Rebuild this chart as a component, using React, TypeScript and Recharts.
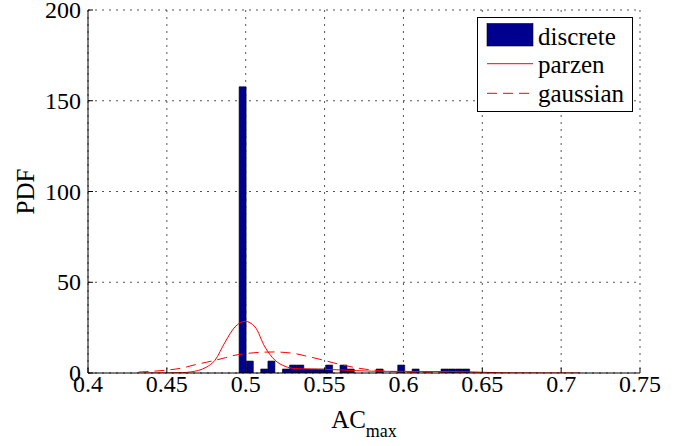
import React from 'react';
import { ComposedChart, Bar, Line, XAxis, YAxis, CartesianGrid, Legend, Label } from 'recharts';

// histogram bins (centres) and their PDF heights
const binCenters = [
  0.49809, 0.50266, 0.5118, 0.51635, 0.52555, 0.53011, 0.53468, 0.53924, 0.54381, 0.54837,
  0.55294, 0.56207, 0.56663, 0.58496, 0.59866, 0.60779, 0.62611, 0.63068, 0.63525, 0.63981,
];
const binPdf = [
  157.7, 6.57, 2.19, 6.57, 2.19, 4.38, 4.38, 2.19, 2.19, 2.19,
  4.38, 4.38, 2.19, 2.19, 4.38, 2.19, 2.19, 2.19, 2.19, 2.19,
];

// parzen window estimate
const parzenX = [
  0.435, 0.45, 0.46, 0.465, 0.47, 0.475, 0.4805, 0.4869, 0.4932, 0.4995, 0.5059, 0.5122, 0.5186,
  0.5249, 0.5313, 0.54, 0.55, 0.56, 0.57, 0.58, 0.59, 0.6, 0.61, 0.62, 0.63, 0.64, 0.65, 0.66,
  0.67, 0.69, 0.712,
];
const parzenY = [
  0, 0.05, 0.2, 0.6, 1.4, 3.2, 7, 17, 25.4, 28.5, 25.4, 14.3, 7,
  3.7, 2.4, 2.2, 2.0, 1.7, 1.3, 1.0, 0.9, 0.9, 0.8, 0.8, 0.8, 0.7, 0.4, 0.15,
  0.05, 0, 0,
];

// gaussian fit
const gaussX = [
  0.432, 0.44, 0.45, 0.46, 0.468, 0.475, 0.4805, 0.487, 0.4932, 0.5, 0.5059, 0.512, 0.5186,
  0.525, 0.5313, 0.537, 0.543, 0.55, 0.556, 0.562, 0.568, 0.575, 0.582, 0.59, 0.6, 0.61, 0.62,
  0.635, 0.66,
];
const gaussY = [
  0.5, 0.9, 1.6, 2.8, 4.6, 5.9, 7.0, 8.4, 9.8, 10.7, 11.2, 11.5, 11.6,
  11.3, 10.7, 9.6, 8.4, 6.9, 5.5, 4.3, 3.2, 2.2, 1.5, 0.9, 0.5, 0.25, 0.1,
  0.05, 0,
];

const xTicks = [0.4, 0.45, 0.5, 0.55, 0.6, 0.65, 0.7, 0.75];
const yTicks = [0, 50, 100, 150, 200];

const histData = binCenters.map((x, i) => ({ x, pdf: binPdf[i] }));
const parzenData = parzenX.map((x, i) => ({ x, parzen: parzenY[i] }));
const gaussData = gaussX.map((x, i) => ({ x, gaussian: gaussY[i] }));

const FONT = "'Liberation Serif', 'Times New Roman', serif";
const NAVY = '#00008F';
const RED = '#FF0000';
const DASH = '10 6';
const serif = { fontFamily: FONT };

const LegendBox = () => (
  <svg width={156} height={95} style={{ display: 'block' }}>
    <rect x={0.5} y={0.5} width={155} height={94} fill="#fff" stroke="#000" />
    <rect x={10} y={6.5} width={46} height={22.5} fill={NAVY} stroke="#000" strokeWidth={0.6} />
    <text x={61} y={27.5} style={serif} fontSize={25} fill="#000">discrete</text>
    <line x1={10} x2={56} y1={46.7} y2={46.7} stroke={RED} strokeWidth={1} />
    <text x={61} y={56.3} style={serif} fontSize={25} fill="#000">parzen</text>
    <line x1={10} x2={56} y1={76.3} y2={76.3} stroke={RED} strokeWidth={1} strokeDasharray={DASH} />
    <text x={61} y={84.7} style={serif} fontSize={25} fill="#000">gaussian</text>
  </svg>
);

const XTick = (props: any) => {
  const { x, y, payload } = props;
  return (
    <g transform={`translate(${x},${y})`}>
      <text x={0} y={0} dy={17} textAnchor="middle" style={{ fontFamily: FONT, fontSize: 24 }} fill="#000">
        {String(payload.value)}
      </text>
    </g>
  );
};

const YTick = (props: any) => {
  const { x, y, payload } = props;
  return (
    <g transform={`translate(${x},${y})`}>
      <text x={0} y={0} dy={8} textAnchor="end" style={{ fontFamily: FONT, fontSize: 24 }} fill="#000">
        {String(payload.value)}
      </text>
    </g>
  );
};

const XLabel = (props: any) => {
  const { viewBox } = props;
  const cx = viewBox.x + viewBox.width / 2;
  return (
    <text x={cx} y={viewBox.y + 55} textAnchor="middle" style={serif} fontSize={25} fill="#000">
      AC
      <tspan fontSize={18} dy={9}>max</tspan>
    </text>
  );
};

const YLabel = (props: any) => {
  const { viewBox } = props;
  const cy = viewBox.y + viewBox.height / 2;
  return (
    <text
      x={25}
      y={cy}
      transform={`rotate(-90 25 ${cy})`}
      textAnchor="middle"
      dominantBaseline="central"
      style={serif}
      fontSize={25}
      fill="#000"
    >
      PDF
    </text>
  );
};

export default function App() {
  return (
    <div style={{ position: 'absolute', left: 0, top: 0, background: '#fff' }}>
      <ComposedChart
        width={689}
        height={446}
        data={histData}
        margin={{ top: 10, right: 49, bottom: 0, left: 0 }}
      >
        <CartesianGrid stroke="#555" strokeDasharray="2 5" />
        <Bar
          dataKey="pdf"
          name="discrete"
          fill={NAVY}
          stroke="#000"
          strokeWidth={0.6}
          barSize={7}
          isAnimationActive={false}
        />
        <Line
          xAxisId="kde"
          data={parzenData}
          dataKey="parzen"
          name="parzen"
          type="monotone"
          stroke={RED}
          strokeWidth={1}
          dot={false}
          isAnimationActive={false}
        />
        <Line
          xAxisId="kde"
          data={gaussData}
          dataKey="gaussian"
          name="gaussian"
          type="monotone"
          stroke={RED}
          strokeWidth={1}
          strokeDasharray={DASH}
          dot={false}
          isAnimationActive={false}
        />
        <XAxis xAxisId="kde" dataKey="x" type="number" domain={[0.4, 0.75]} allowDataOverflow hide />
        <XAxis
          dataKey="x"
          type="number"
          domain={[0.4, 0.75]}
          allowDataOverflow
          ticks={xTicks}
          interval={0}
          height={73}
          tickSize={-5}
          tickMargin={7}
          tick={<XTick />}
          axisLine={{ stroke: '#000' }}
          tickLine={{ stroke: '#000' }}
        >
          <Label content={XLabel} />
        </XAxis>
        <YAxis
          type="number"
          domain={[0, 200]}
          allowDataOverflow
          ticks={yTicks}
          interval={0}
          width={88}
          tickSize={-5}
          tickMargin={12}
          tick={<YTick />}
          axisLine={{ stroke: '#000' }}
          tickLine={{ stroke: '#000' }}
        >
          <Label content={YLabel} />
        </YAxis>
        <Legend
          layout="horizontal"
          verticalAlign="middle"
          align="center"
          content={LegendBox}
          wrapperStyle={{ left: 477, top: 17, width: 156, height: 95 }}
        />
      </ComposedChart>
    </div>
  );
}
